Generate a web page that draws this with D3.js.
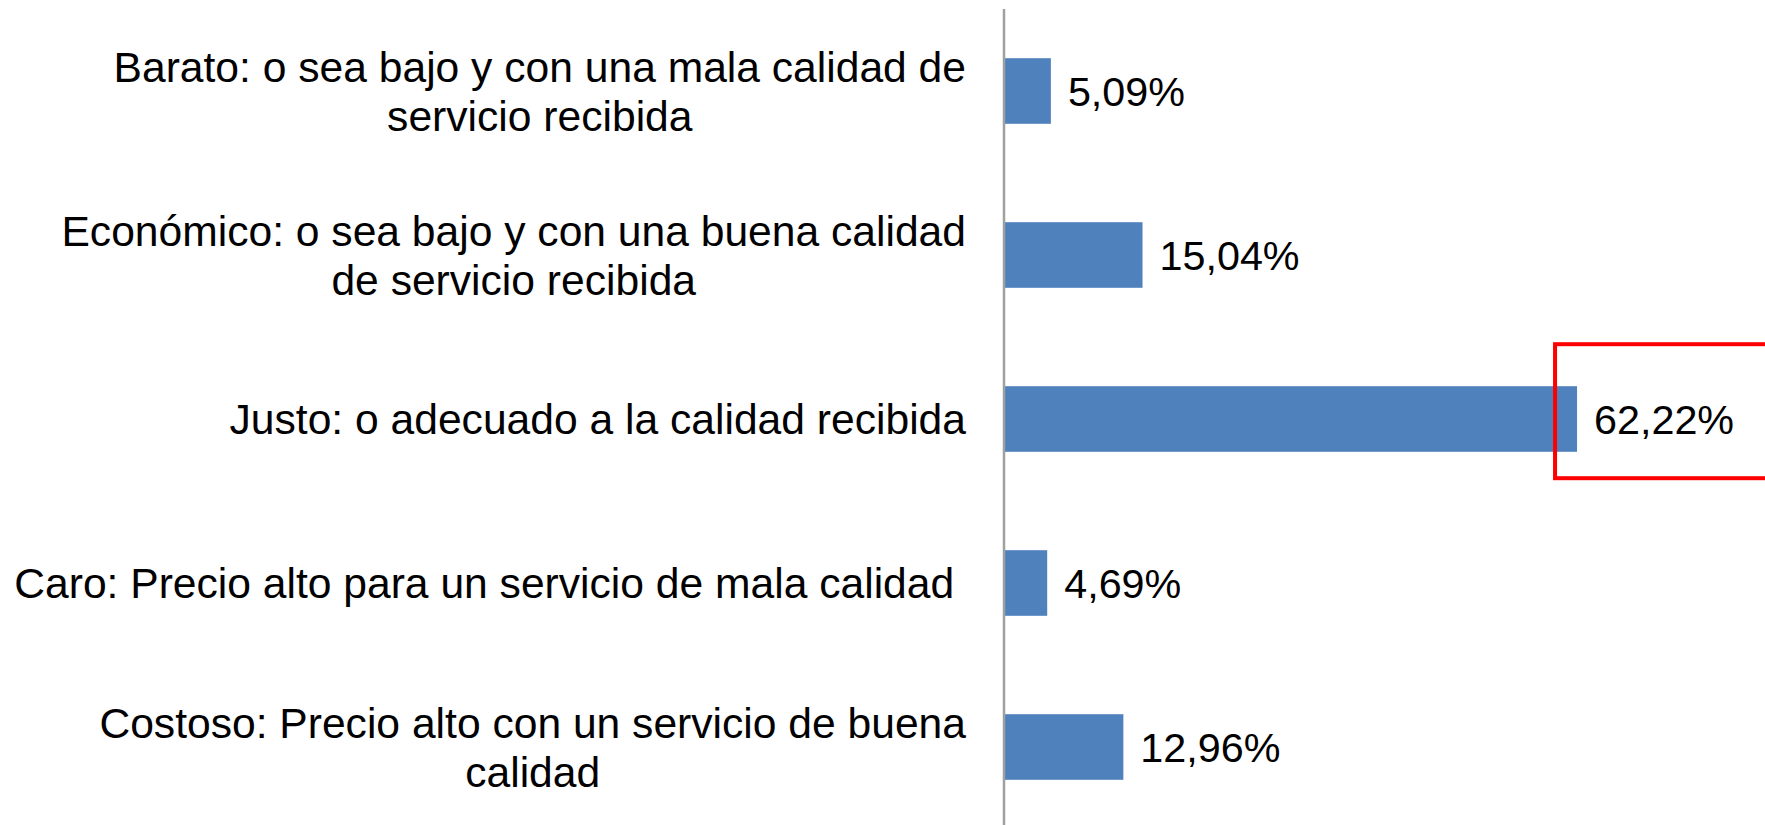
<!DOCTYPE html>
<html>
<head>
<meta charset="utf-8">
<script src="https://cdn.jsdelivr.net/npm/d3@7"></script>
<style>
  html, body { margin: 0; padding: 0; background: #fff; }
  svg { display: block; }
</style>
</head>
<body>
<svg id="chart" width="1765" height="825"></svg>
<script>
// categories, one line per array entry (wrapped like in the original)
const categories = [
  ['Barato: o sea bajo y con una mala calidad de', 'servicio recibida'],
  ['Económico: o sea bajo y con una buena calidad', 'de servicio recibida'],
  ['Justo: o adecuado a la calidad recibida'],
  ['Caro: Precio alto para un servicio de mala calidad '],
  ['Costoso: Precio alto con un servicio de buena', 'calidad']
]
const values = [5.09, 15.04, 62.22, 4.69, 12.96]
const valueLabels = ['5,09%', '15,04%', '62,22%', '4,69%', '12,96%']
const highlighted = 2

let svg = d3.select('#chart')
let axisX = 1004
let fontSize = 42.6

let x = d3.scaleLinear().domain([0, 70]).range([axisX, axisX + 644.7])
let y = d3.scaleBand()
  .domain(d3.range(categories.length))
  .range([9, 829])
  .paddingInner(0.6)
  .paddingOuter(0.3)

// bars
svg.append('g').selectAll('rect')
  .data(values)
  .enter().append('rect')
  .attr('x', x(0))
  .attr('y', function (d, i) { return y(i) })
  .attr('width', function (d) { return x(d) - x(0) })
  .attr('height', y.bandwidth())
  .attr('fill', '#4f81bd')

// vertical axis line
svg.append('line')
  .attr('x1', axisX).attr('x2', axisX)
  .attr('y1', 9).attr('y2', 825)
  .attr('stroke', '#a0a0a0')
  .attr('stroke-width', 2.5)

// value labels
svg.append('g').selectAll('text')
  .data(values)
  .enter().append('text')
  .attr('x', function (d) { return x(d) + 17 })
  .attr('y', function (d, i) { return y(i) + y.bandwidth() / 2 + 15 })
  .style('font-family', 'Arial, "Liberation Sans", sans-serif')
  .style('font-size', '41.3px')
  .attr('fill', '#000')
  .text(function (d, i) { return valueLabels[i] })

// category labels: block right aligned, lines centred inside block
let labelRight = 966
let lineHeight = 49
let labels = svg.append('g').selectAll('g')
  .data(categories)
  .enter().append('g')

labels.each(function (lines, i) {
  let g = d3.select(this)
  let cy = y(i) + y.bandwidth() / 2
  let texts = lines.map(function (line, k) {
    return g.append('text')
      .attr('xml:space', 'preserve')
      .style('white-space', 'pre')
      .style('font-family', 'Arial, "Liberation Sans", sans-serif')
      .style('font-size', fontSize + 'px')
      .attr('text-anchor', 'middle')
      .attr('y', cy + 15 - (lines.length - 1) * lineHeight / 2 + k * lineHeight)
      .text(line)
  })
  let maxW = d3.max(texts, function (t) { return t.node().getComputedTextLength() })
  texts.forEach(function (t) { t.attr('x', labelRight - maxW / 2) })
})

// red highlight box around the largest value
let yb = y(highlighted)
svg.append('rect')
  .attr('x', x(values[highlighted]) - 22)
  .attr('y', yb - 42)
  .attr('width', 230)
  .attr('height', 134)
  .attr('fill', 'none')
  .attr('stroke', '#ff0000')
  .attr('stroke-width', 4)
</script>
</body>
</html>
